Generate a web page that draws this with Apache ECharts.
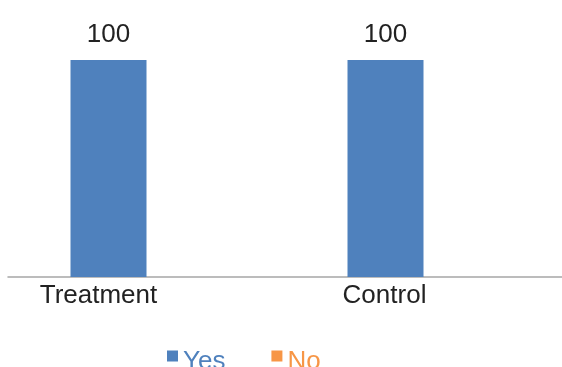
<!DOCTYPE html>
<html>
<head>
<meta charset="utf-8">
<script src="https://cdn.jsdelivr.net/npm/echarts@6/dist/echarts.min.js"></script>
<style>
  html, body { margin: 0; padding: 0; background: #ffffff; }
  #chart { width: 562px; height: 367px; }
</style>
</head>
<body>
<div id="chart"></div>
<script>
// Survey responses per group
const categories = ['Treatment', 'Control'];
const yesValues = [100, 100];
const noValues = [0, 0];
const seriesNames = ['Yes', 'No'];

const BLUE = '#4F81BD';
const ORANGE = '#F79646';
const FONT = '"Liberation Sans", Arial, sans-serif';

// Legend marker: an 11px square sitting in the upper part of a taller box,
// so the square lines up with the top of the legend text.
const LEGEND_ICON = 'path://M0,0H11V11H0Z M0,23L0.01,23';

const chart = echarts.init(document.getElementById('chart'), null, { renderer: 'canvas' });

chart.setOption({
  animation: false,
  textStyle: { fontFamily: FONT },
  grid: { left: 8, right: -3, top: 16.6, bottom: 90, containLabel: false },
  legend: {
    left: 162,
    top: 344,
    icon: LEGEND_ICON,
    itemWidth: 11,
    itemHeight: 23,
    itemGap: 46,
    textStyle: { fontSize: 26, fontFamily: FONT },
    data: [
      { name: seriesNames[0], textStyle: { color: BLUE } },
      { name: seriesNames[1], textStyle: { color: ORANGE } }
    ]
  },
  xAxis: {
    type: 'category',
    data: categories,
    axisLine: { lineStyle: { color: '#A6A6A6', width: 1.5 } },
    axisTick: { show: false },
    axisLabel: {
      margin: 6,
      fontSize: 26,
      color: '#222222',
      fontFamily: FONT,
      formatter: function (v) { return v === 'Treatment' ? '{t|' + v + '}' : '{c|' + v + '}'; },
      rich: {
        t: { fontSize: 26, color: '#222222', fontFamily: FONT, padding: [0, 96, 0, 0] },
        c: { fontSize: 26, color: '#222222', fontFamily: FONT, padding: [0, 78, 0, 0] }
      }
    }
  },
  yAxis: {
    type: 'value',
    min: 0,
    max: 120,
    show: false,
    splitLine: { show: false }
  },
  series: [
    {
      name: seriesNames[0],
      type: 'bar',
      data: yesValues,
      barWidth: 76,
      barGap: '0%',
      itemStyle: { color: BLUE },
      label: {
        show: true,
        position: 'top',
        distance: 12,
        fontSize: 26,
        color: '#222222',
        fontFamily: FONT
      }
    },
    {
      name: seriesNames[1],
      type: 'bar',
      data: noValues,
      barWidth: 76,
      barGap: '0%',
      itemStyle: { color: ORANGE },
      label: { show: false }
    }
  ]
});
</script>
</body>
</html>
